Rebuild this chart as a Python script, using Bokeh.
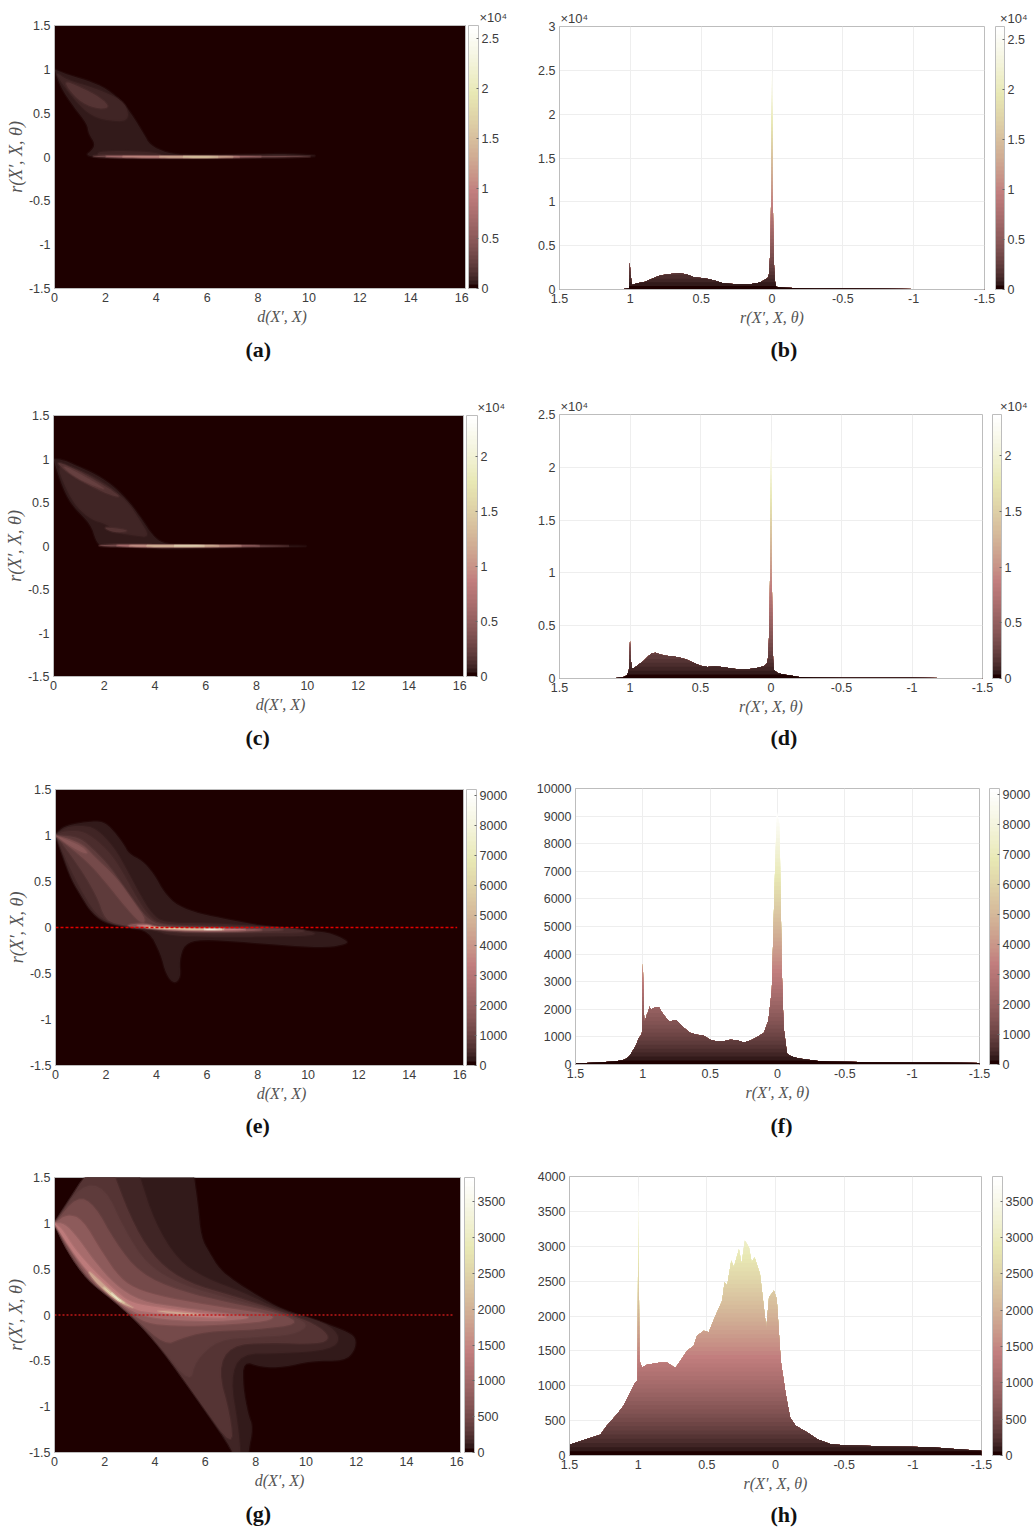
import numpy as np
from bokeh.embed import file_html
from bokeh.resources import INLINE
from bokeh.plotting import figure
from bokeh.layouts import column, row
from bokeh.models import (ColumnDataSource, LinearColorMapper, ColorBar, FixedTicker,
                          Range1d, Title)

# ---------- tick labels ----------
D_TICKS = [0, 2, 4, 6, 8, 10, 12, 14, 16]
R_TICKS = [-1.5, -1, -0.5, 0, 0.5, 1, 1.5]
Y_B = [0, 0.5, 1, 1.5, 2, 2.5, 3]
Y_D = [0, 0.5, 1, 1.5, 2, 2.5]
Y_F = [0, 1000, 2000, 3000, 4000, 5000, 6000, 7000, 8000, 9000, 10000]
Y_H = [0, 500, 1000, 1500, 2000, 2500, 3000, 3500, 4000]
CB_AB = [0, 0.5, 1, 1.5, 2, 2.5]
CB_CD = [0, 0.5, 1, 1.5, 2]
CB_EF = [0, 1000, 2000, 3000, 4000, 5000, 6000, 7000, 8000, 9000]
CB_GH = [0, 500, 1000, 1500, 2000, 2500, 3000, 3500]
VMAX_AB, VMAX_CD, VMAX_EF, VMAX_GH = 2.63, 2.37, 9200, 3840

# ---------- density regions: (level, outline of (d, r)) ----------
A_REGIONS = [
 (0.07, [(0,1),(.5,.94),(1.28,.875),(2.06,.78),(2.72,.61),(3.1,.456),(3.5,.266),(3.76,.133),(4.41,.046),(5.2,.019),(8.33,.03),(9.1,.038),(10.9,.004),(5.7,-.02),(1.8,-.012),(1.21,.02),(1.47,.076),(1.6,.15),(1.34,.266),(1.28,.38),(.76,.57),(.23,.8)]),
 (0.1, [(.05,.97),(.5,.88),(1.2,.82),(2,.74),(2.8,.62),(2.95,.4),(1.9,.42),(1.3,.5),(.7,.68),(.2,.88)]),
 (0.1, [(1.7,.06),(2.5,.07),(3.7,.06),(4.4,.02),(3,.01),(1.7,.01)]),
 (0.17, [(.3,.88),(1,.8),(1.8,.68),(2.2,.56),(1.6,.55),(.9,.65)]),
 (0.3, [(1.3,.012),(2.5,.02),(4.4,.012),(8.3,.012),(9.5,.01),(10.4,.002),(5.7,-.008),(2,-.008)]),
 (0.7, [(1.8,.008),(3,.01),(5,.007),(9,.003),(5.7,-.005),(2.5,-.005)]),
 (1.1, [(2.5,.006),(4,.006),(8,.002),(5.5,-.004),(3,-.003)]),
 (1.5, [(4,.004),(5.5,.004),(7.5,.001),(5.5,-.004),(4.3,-.002)]),
 (1.8, [(4.8,.003),(6.8,.001),(5.5,-.003)]),
]
C_REGIONS = [
 (0.07, [(0,1),(.4,.99),(1,.91),(1.7,.82),(2.4,.68),(3,.5),(3.5,.3),(3.9,.12),(4.3,.03),(5,.01),(8,.005),(10.6,0),(8,-.012),(5,-.03),(4.4,-.03),(3,-.005),(1.86,.0),(1.67,.06),(1.47,.25),(.75,.46),(.42,.635),(.15,.85)]),
 (0.1, [(.1,.95),(1,.88),(2,.73),(2.9,.52),(3.4,.3),(3.8,.1),(3.2,.12),(2.5,.15),(2.1,.25),(1.5,.3),(.9,.45),(.5,.65)]),
 (0.15, [(.1,.97),(.6,.92),(1.4,.8),(2.2,.66),(2.7,.55),(2.1,.6),(1.4,.7),(.8,.8),(.4,.88)]),
 (0.15, [(1.9,.22),(2.6,.2),(3,.17),(2.4,.15)]),
 (0.25, [(.3,.93),(.8,.87),(1.7,.72),(2.1,.64),(1.5,.7),(.8,.8)]),
 (0.3, [(1.8,.012),(3,.02),(4.4,.012),(10,.001),(8,-.005),(5,-.018),(3,-.01),(1.8,-.002)]),
 (0.7, [(2.5,.01),(4,.01),(9,.002),(6,-.006),(4,-.012),(2.5,0)]),
 (1.1, [(3,.007),(4.5,.006),(8,.002),(6,-.004),(4.5,-.007),(3,-.002)]),
 (1.5, [(3.5,.004),(5,.004),(7,.001),(5,-.004),(4,-.003)]),
 (1.9, [(4.6,.003),(6.3,.001),(5,-.002)]),
]
E_REGIONS = [
 (160, [(0,1.01),(.33,1.1),(1,1.14),(1.79,1.16),(2.18,1.09),(2.7,.906),(2.9,.8),(3.44,.725),(3.9,.58),(4.3,.38),(4.83,.235),(5.75,.145),(6.8,.09),(8.13,.018),(9.6,-.03),(10.8,-.05),(11.57,-.145),(11.5,-.18),(10.78,-.217),(9.3,-.2),(7.7,-.163),(5.75,-.127),(5.1,-.18),(4.9,-.36),(4.96,-.54),(4.7,-.616),(4.37,-.507),(4.17,-.29),(3.7,-.036),(2.84,0),(1.92,.054),(1.39,.18),(1,.36),(.6,.54),(.26,.8)]),
 (300, [(0,1.01),(.4,1.09),(1,1.11),(1.6,1.08),(2.3,.88),(2.8,.64),(3.3,.38),(3.8,.15),(4.3,.05),(6,.05),(8.5,.01),(10.2,-.04),(10.3,-.09),(8,-.1),(6,-.1),(4.6,-.09),(3.9,-.03),(3,0),(2,.05),(1.45,.16),(1.05,.33),(.65,.52),(.3,.78)]),
 (550, [(0,1.01),(.4,1.05),(1,1.05),(1.5,.98),(2.2,.8),(2.7,.58),(3.2,.33),(3.7,.12),(4.2,.03),(6,.02),(8.5,.005),(10,-.03),(9.6,-.06),(8,-.06),(6,-.07),(4.6,-.05),(3.9,-.02),(3,.01),(2.1,.06),(1.6,.15),(1.2,.32),(.8,.52),(.4,.75)]),
 (800, [(0,1),(.4,1),(1,.97),(1.5,.85),(2.2,.65),(2.9,.36),(3.6,.1),(4.2,.02),(7,0),(9,-.01),(9,-.04),(6,-.05),(4.5,-.04),(3.8,-.01),(3,.01),(2.2,.05),(1.9,.13),(1.7,.3),(1.2,.55),(.7,.75),(.3,.9)]),
 (1150, [(0,1),(.5,.97),(1.1,.9),(1.5,.78),(2.4,.55),(3.1,.28),(3.6,.08),(3.4,.04),(2.9,.18),(2.2,.42),(1.5,.65),(.9,.8),(.3,.93)]),
 (1700, [(0,1),(.6,.94),(1.1,.87),(1.3,.8),(1,.82),(.5,.9)]),
 (1700, [(2.8,.03),(3.6,.05),(3.9,0),(7.5,-.01),(8.5,-.03),(6.5,-.05),(4.8,-.04),(3.8,-.01),(3,0)]),
 (3200, [(3.1,.02),(3.7,.03),(4,0),(5,-.01),(7,-.015),(7.8,-.025),(6,-.035),(4.6,-.025),(3.6,0)]),
 (6000, [(3.5,.01),(4,0),(5.5,-.012),(7,-.018),(5.8,-.025),(4.5,-.015),(3.7,-.005)]),
 (8500, [(5.8,-.016),(6.8,-.019),(6,-.022)]),
]
G_REGIONS = [
 (100, [(0,1),(1.65,1.7),(5.5,1.7),(5.55,1.5),(5.7,1.21),(5.83,.845),(6.16,.68),(6.56,.5),(7.16,.37),(7.95,.23),(9.15,.045),(10.48,-.064),(11.54,-.17),(12,-.245),(11.94,-.39),(11.54,-.5),(10.2,-.5),(9.15,-.57),(8.22,-.57),(7.5,-.5),(7.5,-.79),(7.7,-1.08),(7.9,-1.23),(7.7,-1.5),(7.7,-1.7),(7.3,-1.7),(7.16,-1.5),(5.83,-.97),(4.24,-.355),(3.17,-.03),(2.24,.19),(1.31,.39),(.52,.7)]),
 (170, [(0,1),(1.65,1.7),(3.2,1.7),(3.4,1.5),(4,1),(4.9,.6),(6,.4),(7.5,.25),(9,.05),(10.8,-.08),(11.4,-.25),(11,-.38),(9,-.42),(7.4,-.42),(7,-.7),(7.3,-1.2),(7.4,-1.5),(7.4,-1.7),(7.3,-1.7),(7.16,-1.5),(5.83,-.97),(4.24,-.355),(3.17,-.03),(2.24,.19),(1.31,.39),(.52,.7)]),
 (250, [(0,1),(1.65,1.7),(2.2,1.7),(2.4,1.5),(3.2,.95),(4.1,.58),(5.3,.35),(7.2,.2),(9,.04),(10.4,-.1),(11,-.25),(10.5,-.32),(8.5,-.3),(7,-.33),(6.5,-.6),(7,-1.1),(7.1,-1.45),(5.83,-.97),(4.24,-.355),(3.17,-.03),(2.24,.19),(1.31,.39),(.52,.7)]),
 (350, [(0,1),(1.05,1.42),(2,1.4),(2.8,.92),(3.7,.54),(5.1,.32),(7.1,.17),(9,.03),(10.2,-.1),(9.5,-.22),(8,-.24),(6.5,-.27),(5.6,-.5),(5.4,-.75),(4.24,-.355),(3.17,-.03),(2.24,.19),(1.31,.39),(.52,.7)]),
 (500, [(0,1),(.9,1.3),(1.6,1.2),(2.4,.8),(3.4,.45),(5,.26),(7,.13),(9,.02),(9.8,-.1),(8,-.16),(6,-.18),(5,-.26),(4.4,-.33),(3.17,-.03),(2.24,.19),(1.31,.39),(.52,.7)]),
 (750, [(0,1),(.5,1.1),(1.1,1.05),(1.9,.68),(2.6,.4),(3.4,.26),(5,.16),(7,.07),(8.8,0),(8.5,-.07),(6.5,-.11),(5,-.12),(3.9,-.1),(3.3,-.04),(2.24,.2),(1.31,.41),(.6,.72)]),
 (1050, [(0,1),(.4,1),(.9,.85),(1.6,.58),(2.4,.33),(3.4,.15),(5,.08),(7,.01),(8,-.03),(6.5,-.07),(5,-.06),(3.9,-.03),(3.1,.03),(2.3,.2),(1.4,.43),(.6,.73)]),
 (1350, [(0,1),(.3,.94),(.8,.72),(1.5,.5),(2.4,.27),(3,.14),(3.7,.1),(5,.05),(6.5,0),(7,-.03),(5.5,-.02),(4,.02),(3.1,.06),(2.3,.22),(1.4,.45),(.7,.7)]),
 (1800, [(1.3,.5),(1.9,.35),(2.5,.2),(3,.1),(3.2,.07),(2.6,.13),(2,.26),(1.5,.4)]),
 (1800, [(4,.05),(5,.03),(6,0),(5.2,0),(4.3,.03)]),
 (2600, [(1.9,.32),(2.4,.2),(2.9,.11),(2.5,.17),(2.05,.27)]),
 (3200, [(2.2,.26),(2.5,.18),(2.7,.14),(2.45,.18)]),
]
ZERO_E_D, ZERO_E_R = [0, 15.9], [0, 0]
ZERO_G_D, ZERO_G_R = [0, 15.9], [0, 0]

# ---------- histogram silhouettes read from the side views: r, count ----------
B_R = [1.5,1.2,1.05,1.01,1.007,1.005,.998,.99,.95,.9,.85,.8,.75,.7,.65,.6,.55,.5,.45,.4,.35,.3,.25,.2,.15,.12,.1,.08,.05,.03,.02,.01,.005,0,-.005,-.01,-.015,-.02,-.03,-.05,-.1,-.2,-.3,-.5,-.8,-1,-1.2,-1.5]
B_N = [.003,.004,.006,.01,.05,.31,.18,.05,.07,.085,.12,.155,.17,.18,.185,.17,.14,.13,.12,.1,.075,.065,.06,.06,.06,.07,.075,.085,.11,.13,.18,.5,1.3,2.62,1.2,.5,.25,.1,.03,.025,.02,.015,.012,.01,.008,.007,.006,.005]
D_R = [1.5,1.2,1.1,1.05,1.02,1.01,1.005,1,.995,.985,.97,.95,.92,.9,.87,.85,.82,.8,.75,.7,.65,.6,.55,.5,.45,.4,.35,.3,.25,.2,.15,.1,.05,.03,.02,.015,.01,.005,0,-.005,-.01,-.015,-.02,-.05,-.1,-.15,-.2,-.3,-.5,-.8,-1,-1.2,-1.5]
D_N = [.002,.003,.005,.012,.03,.07,.1,.36,.18,.1,.1,.12,.15,.17,.21,.235,.245,.235,.215,.21,.2,.18,.15,.12,.11,.115,.11,.1,.09,.088,.09,.1,.115,.14,.2,.35,.6,1.2,2.37,1.1,.5,.18,.08,.05,.035,.025,.015,.01,.008,.007,.006,.005,.005]
F_R = [1.5,1.3,1.2,1.15,1.12,1.1,1.08,1.05,1.03,1.01,1.005,1,.995,.99,.985,.97,.96,.95,.94,.92,.9,.88,.86,.83,.8,.77,.75,.72,.7,.65,.6,.55,.5,.45,.4,.35,.3,.25,.2,.15,.1,.067,.042,.022,.005,-.015,-.032,-.045,-.07,-.1,-.15,-.2,-.3,-.4,-.5,-.7,-1,-1.2,-1.5]
F_N = [40,80,120,150,220,300,450,700,950,1080,1200,3700,2500,1600,1550,1800,1900,2100,1980,2050,2070,2070,1900,1700,1550,1600,1600,1450,1350,1150,1080,1050,900,830,840,900,880,800,870,1000,1150,1600,2700,6400,9200,8700,3400,1370,400,300,230,190,130,110,100,85,70,70,50]
H_R = [1.5,1.373,1.276,1.228,1.154,1.106,1.057,1.021,1.004,.999,.991,.972,.936,.838,.79,.729,.692,.644,.595,.571,.522,.486,.437,.388,.371,.352,.322,.303,.266,.247,.223,.193,.174,.152,.113,.096,.067,.047,.011,-.009,-.038,-.074,-.106,-.147,-.232,-.305,-.403,-.5,-.646,-.816,-.987,-1.157,-1.352,-1.5]
H_N = [153,235,297,425,593,713,904,1048,1072,3990,1359,1263,1301,1335,1335,1254,1359,1502,1574,1718,1789,1766,2005,2220,2483,2435,2794,2699,2962,2746,3081,2986,2770,2842,2603,2316,1813,2268,2364,2244,1359,880,545,425,330,234,163,148,139,129,124,115,86,67]

# ---------- Matlab "pink" colormap, 64 steps ----------
def pink64():
    m, n = 64, 24
    t = np.arange(m) / (m - 1)
    r = np.minimum(np.arange(1, m + 1) / n, 1)
    g = np.clip((np.arange(1, m + 1) - n) / n, 0, 1)
    b = np.clip((np.arange(1, m + 1) - 2 * n) / (m - 2 * n), 0, 1)
    out = []
    for i in range(m):
        c = [np.sqrt((2 * t[i] + h[i]) / 3) for h in (r, g, b)]
        out.append("#%02x%02x%02x" % tuple(int(round(255 * v)) for v in c))
    return out
PINK = pink64()

TICK_COL, AX_COL, LAB_COL = "#3c3c3c", "#bdbdbd", "#555555"
SANS, SERIF = "Liberation Sans", "Liberation Serif"
MULT = "×10⁴"
NB = "\u00a0"

def label_text(v):
    return ("%g" % v)

def base_fig(box, page, xr, yr, xt, yt, bg):
    fl, fr, ft, fb = box
    L, R, T, B = page
    p = figure(width=R - L, height=B - T, x_range=Range1d(*xr), y_range=Range1d(*yr),
               output_backend="svg", toolbar_location=None, tools="", frame_align=False,
               min_border_left=fl - L, min_border_right=R - fr,
               min_border_top=ft - T, min_border_bottom=B - fb,
               background_fill_color=bg, outline_line_color=AX_COL, border_fill_color="white")
    p.xaxis.ticker = FixedTicker(ticks=xt)
    p.yaxis.ticker = FixedTicker(ticks=yt)
    p.xaxis.major_label_overrides = {v: label_text(v) for v in xt}
    p.yaxis.major_label_overrides = {v: label_text(v) for v in yt}
    for ax in (p.xaxis[0], p.yaxis[0]):
        ax.major_tick_in = 0
        ax.major_tick_out = 0
        ax.minor_tick_in = 0
        ax.minor_tick_out = 0
        ax.axis_line_color = AX_COL
        ax.major_label_text_font = SANS
        ax.major_label_text_font_size = "12.5px"
        ax.major_label_text_color = TICK_COL
        ax.major_label_standoff = 4
        ax.axis_label_text_font = SERIF
        ax.axis_label_text_font_style = "italic"
        ax.axis_label_text_color = LAB_COL
    p.xaxis.axis_label_standoff = 3
    p.yaxis.axis_label_standoff = 0
    return p

def add_cbar(p, box, vmax, ticks):
    fl, fr, ft, fb, cl, cr = box
    mapper = LinearColorMapper(palette=PINK, low=0, high=vmax)
    cb = ColorBar(color_mapper=mapper, ticker=FixedTicker(ticks=ticks),
                  major_label_overrides={v: label_text(v) for v in ticks},
                  location=(cl - fl, 0), width=cr - cl, height=fb - ft, padding=0, margin=0,
                  major_tick_in=2, major_tick_line_color="#666666", minor_tick_in=0,
                  bar_line_color=AX_COL, label_standoff=3,
                  major_label_text_font=SANS, major_label_text_font_size="12.5px",
                  major_label_text_color=TICK_COL)
    p.add_layout(cb)
    return mapper

def caption(p, box, cap, cap_x, standoff=14):
    p.add_layout(Title(text=cap, align="left", offset=cap_x - 13 - box[0], standoff=standoff,
                       text_font=SERIF, text_font_size="22px", text_font_style="bold",
                       text_color="#111111"), "below")

def mult_title(p, text, x_left, standoff):
    p.add_layout(Title(text=text, align="left", offset=x_left, standoff=standoff, text_font=SANS,
                       text_font_size="13px", text_font_style="normal", text_color=TICK_COL), "above")

def smooth(poly, rounds=2):
    pts = []
    for q in poly:
        pts.append(q)
        if q[0] == 0:
            pts.append(q)
    for _ in range(rounds):
        out = []
        for i in range(len(pts)):
            a, b = pts[i], pts[(i + 1) % len(pts)]
            out.append((.75 * a[0] + .25 * b[0], .75 * a[1] + .25 * b[1]))
            out.append((.25 * a[0] + .75 * b[0], .25 * a[1] + .75 * b[1]))
        pts = out
    return pts

XR_D, YR_R, XR_R = (0, 16.15), (-1.5, 1.5), (1.5, -1.5)

def panel_2d(box, page, cbar, vmax, ticks, regions, cap, cap_x, mult=None, zero=None, cap_off=14):
    p = base_fig(box, page, XR_D, YR_R, D_TICKS, R_TICKS, PINK[0])
    p.grid.visible = False
    p.xaxis.axis_label = NB * 11 + "d(X′, X)"
    p.yaxis.axis_label = "r(X′, X, θ)"
    p.xaxis.axis_label_text_font_size = "16px"
    p.yaxis.axis_label_text_font_size = "18px"
    caption(p, box, cap, cap_x, cap_off)
    if mult is not None:
        mult_title(p, MULT, mult - box[0], 1)
    mapper = add_cbar(p, box + cbar, vmax, ticks)
    shapes = [smooth(r[1]) for r in regions]
    src = ColumnDataSource(dict(level=[r[0] for r in regions],
                                xs=[[q[0] for q in s] for s in shapes],
                                ys=[[q[1] for q in s] for s in shapes]))
    col = {"field": "level", "transform": mapper}
    p.patches("xs", "ys", source=src, fill_color=col, line_color=col, line_alpha=0.3, line_width=2.5)
    if zero:
        p.line(zero[0], zero[1], line_color=zero[2], line_dash=zero[3], line_width=zero[4])
    return p

def clip_curve(x, y, hi):
    xo, yo = [x[0]], [min(y[0], hi)]
    for i in range(1, len(x)):
        if (y[i - 1] - hi) * (y[i] - hi) < 0:
            t = (hi - y[i - 1]) / (y[i] - y[i - 1])
            xo.append(x[i - 1] + t * (x[i] - x[i - 1]))
            yo.append(hi)
        xo.append(x[i])
        yo.append(min(y[i], hi))
    return xo, yo

def panel_hist(box, page, cbar, vmax, ticks, ymax, yt, rr, nn, cap, cap_x, gap=None, cap_off=14):
    yr = (0, ymax)
    p = base_fig(box, page, XR_R, yr, R_TICKS, yt, "white")
    p.grid.grid_line_color = "#eeeeee"
    p.xaxis.axis_label = "r(X′, X, θ)"
    p.xaxis.axis_label_text_font_size = "16px"
    caption(p, box, cap, cap_x, cap_off)
    if gap is not None:
        mult_title(p, MULT + NB * gap + MULT, 1, 1)
    add_cbar(p, box + cbar, vmax, ticks)
    for i in range(63, -1, -1):
        lo, hi = i / 64 * vmax, (i + 1) / 64 * vmax
        if max(nn) <= lo:
            continue
        cx, cy = clip_curve(rr, nn, hi)
        p.varea(x=cx, y1=[0] * len(cx), y2=cy, fill_color=PINK[i], fill_alpha=1)
    return p

ROWS = [(0, 395), (395, 770), (770, 1160), (1160, 1533)]
LX, RX = (0, 520), (520, 1034)
def page(col, r):
    return (col[0], col[1], ROWS[r][0], ROWS[r][1])

pa = panel_2d((54, 465, 25, 288), page(LX, 0), (468, 478), VMAX_AB, CB_AB, A_REGIONS, "(a)", 258, mult=479)
pb = panel_hist((559, 984, 26, 289), page(RX, 0), (995, 1004), VMAX_AB, CB_AB, 3, Y_B, B_R, B_N, "(b)", 783, gap=114, cap_off=12)
pc = panel_2d((53, 463, 415, 676), page(LX, 1), (466, 477), VMAX_CD, CB_CD, C_REGIONS, "(c)", 258, mult=477)
pd = panel_hist((559, 982, 414, 678), page(RX, 1), (992, 1001), VMAX_CD, CB_CD, 2.5, Y_D, D_R, D_N, "(d)", 783, gap=114, cap_off=10)
pe = panel_2d((55, 463, 789, 1065), page(LX, 2), (466, 476), VMAX_EF, CB_EF, E_REGIONS, "(e)", 258,
              zero=(ZERO_E_D, ZERO_E_R, "#e00000", "3 2", 1.5), cap_off=12)
pf = panel_hist((575, 979, 788, 1064), page(RX, 2), (989, 999), VMAX_EF, CB_EF, 10000, Y_F, F_R, F_N, "(f)", 783, cap_off=14)
pg = panel_2d((54, 460, 1177, 1452), page(LX, 3), (464, 474), VMAX_GH, CB_GH, G_REGIONS, "(g)", 258,
              zero=(ZERO_G_D, ZERO_G_R, "#c01818", "2 2", 1.5), cap_off=15)
ph = panel_hist((569, 981, 1176, 1455), page(RX, 3), (992, 1002), VMAX_GH, CB_GH, 4000, Y_H, H_R, H_N, "(h)", 783, cap_off=10)

layout = column(row(pa, pb, spacing=0), row(pc, pd, spacing=0), row(pe, pf, spacing=0), row(pg, ph, spacing=0), spacing=0)
open("out.html", "w").write(file_html(layout, INLINE))
